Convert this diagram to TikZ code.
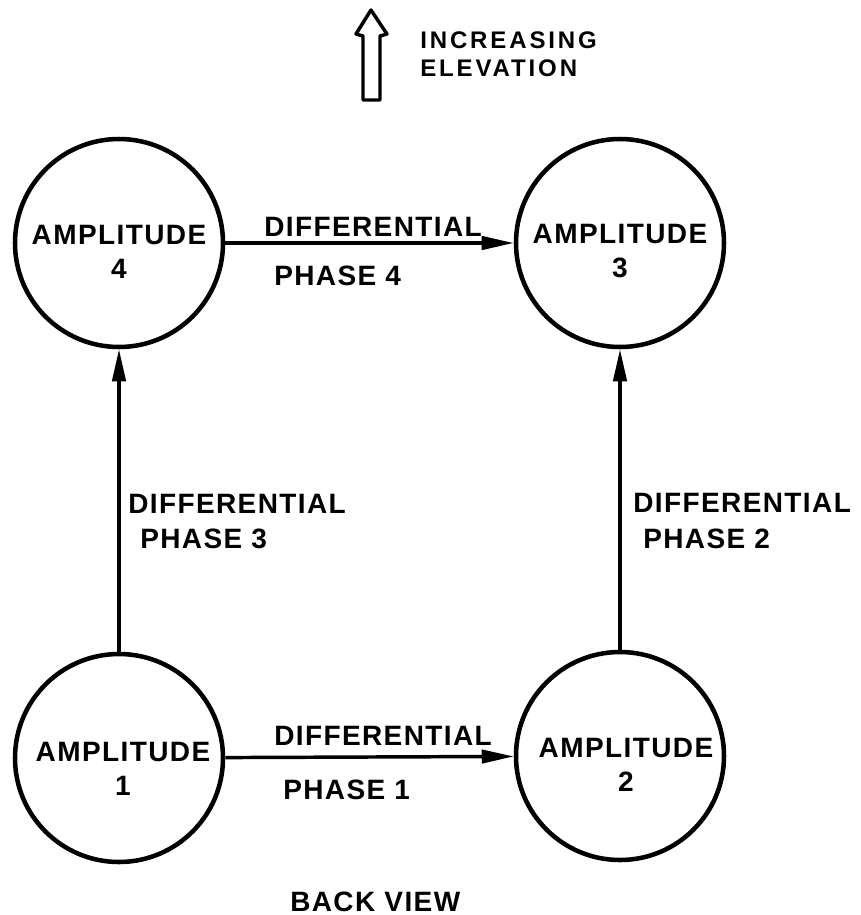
\documentclass[tikz,border=0pt]{standalone}
\usepackage{fontspec}
\setmainfont{Liberation Sans}
\usetikzlibrary{arrows.meta,calc}

\begin{document}
\begin{tikzpicture}[x=0.75pt,y=-0.75pt,
  ampcircle/.style={circle,draw,line width=3.4pt,minimum size=156pt,inner sep=0pt},
  conn/.style={line width=2.6pt,-{Triangle[length=24pt,width=10pt]}},
  lbl/.style={inner sep=0pt,anchor=base west,
    font=\bfseries\fontsize{21}{25}\selectfont\addfontfeature{LetterSpace=5}},
  amptext/.style={inner sep=0pt,align=center,
    font=\bfseries\fontsize{21}{25}\selectfont\addfontfeature{LetterSpace=5}},
  elev/.style={inner sep=0pt,anchor=base west,
    font=\bfseries\fontsize{18}{21}\selectfont\addfontfeature{LetterSpace=12}}
]
\useasboundingbox (0,0) rectangle (861,915);

% elevation indicator
\draw[line width=2.6pt,line join=round]
  (371,10) -- (387,34) -- (380,36) -- (380,100) -- (363,100) -- (363,36) -- (356,34) -- cycle;
\node[elev] (inc) at (420,48) {INCREASING};
\node[elev] (elv) at (420,76) {ELEVATION};

% amplitude ports
\node[ampcircle] (a4) at (119,243) {};
\node[ampcircle] (a3) at (620,243) {};
\node[ampcircle] (a1) at (119,758) {};
\node[ampcircle] (a2) at (620,756) {};

\node[amptext] (t4) at ($(a4)+(0,9)$) {AMPLITUDE\\4};
\node[amptext] (t3) at ($(a3)+(0,8)$) {AMPLITUDE\\3};
\node[amptext] (t1) at ($(a1)+(4,11)$) {AMPLITUDE\\1};
\node[amptext] (t2) at ($(a2)+(6,9)$) {AMPLITUDE\\2};

% differential phase paths
\draw[conn] (a4) -- (a3);
\draw[conn] (a1) -- (a2);
\draw[conn] (a1) -- (a4);
\draw[conn] (a2) -- (a3);

\node[lbl] (d4) at (264,236) {DIFFERENTIAL};
\node[lbl] (p4) at (274,285) {PHASE 4};
\node[lbl] (d1) at (274,745) {DIFFERENTIAL};
\node[lbl] (p1) at (283,799) {PHASE 1};
\node[lbl] (d3) at (128,513) {DIFFERENTIAL};
\node[lbl] (p3) at (140,548) {PHASE 3};
\node[lbl] (d2) at (633,512) {DIFFERENTIAL};
\node[lbl] (p2) at (643,548) {PHASE 2};

\node[lbl] (bv) at (290,911) {BACK VIEW};
\end{tikzpicture}
\end{document}
